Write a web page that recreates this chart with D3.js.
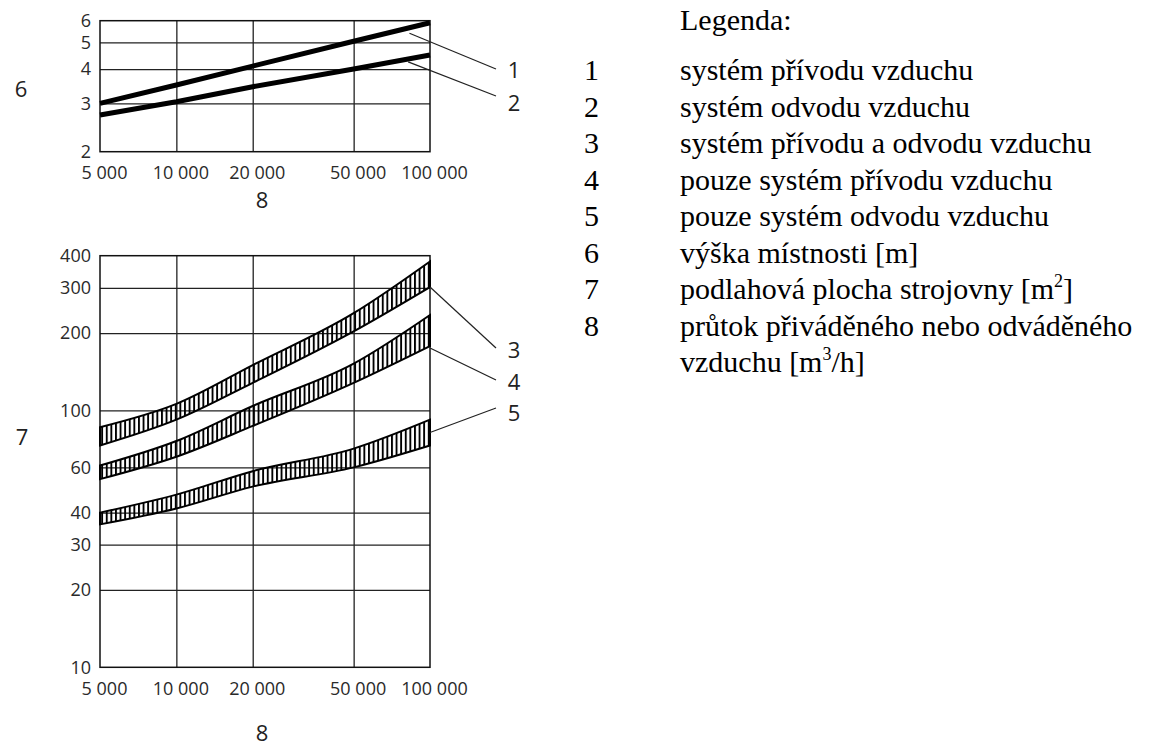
<!DOCTYPE html>
<html>
<head>
<meta charset="utf-8">
<script src="https://cdn.jsdelivr.net/npm/d3@7"></script>
<style>
    body { margin: 0; background: #fff; }
    .tick text { font-family: "Open Sans", sans-serif; font-size: 18px; fill: #2a2a2a; }
    .title { font-family: "Open Sans", sans-serif; font-size: 22px; fill: #222; }
    .legend { font-family: "Liberation Serif", "Times New Roman", serif; font-size: 30px; fill: #000; }
</style>
</head>
<body>
<svg id="chart"></svg>
<script>
// air flow [m3/h] on both x axes
const flowTicks = [5000, 10000, 20000, 50000, 100000];
const flows = [5000, 10000, 20000, 50000, 100000];

// upper chart: room height [m]
const heightTicks = [2, 3, 4, 5, 6];
const heightSupply = [3.0, 3.5, 4.1, 5.05, 5.9];     // 1
const heightExhaust = [2.72, 3.04, 3.45, 4.0, 4.5];  // 2

// lower chart: floor area of the plant room [m2]
const areaTicks = [10, 20, 30, 40, 60, 100, 200, 300, 400];
const areaBothLow = [73, 92, 128, 203, 302];         // 3
const areaBothHigh = [86, 106, 150, 239, 380];
const areaSupplyLow = [54, 66, 87, 128, 178];        // 4
const areaSupplyHigh = [61, 76, 104, 152, 235];
const areaExhaustLow = [36, 41.5, 50.5, 60, 73];     // 5
const areaExhaustHigh = [40, 47, 58, 71, 92];

const legendKeys = ["1", "2", "3", "4", "5", "6", "7", "8"];
const legendTexts = [
    "systém přívodu vzduchu",
    "systém odvodu vzduchu",
    "systém přívodu a odvodu vzduchu",
    "pouze systém přívodu vzduchu",
    "pouze systém odvodu vzduchu",
    "výška místnosti [m]",
    "podlahová plocha strojovny [m^2]",
    "průtok přiváděného nebo odváděného\nvzduchu [m^3/h]"
];

const width = 1167, height = 749;
const svg = d3.select("#chart").attr("width", width).attr("height", height);
svg.append("defs").append("pattern")
    .attr("id", "hatch").attr("patternUnits", "userSpaceOnUse")
    .attr("width", 4.6).attr("height", 10)
    .append("rect").attr("width", 1.9).attr("height", 10).attr("fill", "#000");

const fmt = d3.formatLocale({decimal: ",", thousands: " ", grouping: [3], currency: ["", ""]}).format(",");
const left = 100, right = 430;

function drawPanel(top, bottom, yDomain, yTicks, labelDx) {
    const x = d3.scaleLog().domain([5000, 100000]).range([left, right]);
    const y = d3.scaleLog().domain(yDomain).range([bottom, top]);
    const g = svg.append("g");

    // grid
    g.append("g").attr("transform", "translate(0," + bottom + ")")
        .call(d3.axisBottom(x).tickValues(flowTicks.slice(1, -1)).tickSize(-(bottom - top)).tickFormat(""))
        .call(s => s.select(".domain").remove())
        .selectAll("line").attr("stroke", "#222").attr("stroke-width", 1.3);
    g.append("g").attr("transform", "translate(" + left + ",0)")
        .call(d3.axisLeft(y).tickValues(yTicks.slice(1, -1)).tickSize(-(right - left)).tickFormat(""))
        .call(s => s.select(".domain").remove())
        .selectAll("line").attr("stroke", "#222").attr("stroke-width", 1.3);
    g.append("rect").attr("x", left).attr("y", top)
        .attr("width", right - left).attr("height", bottom - top)
        .attr("fill", "none").attr("stroke", "#111").attr("stroke-width", 1.5);

    // tick labels
    g.append("g").attr("transform", "translate(0," + bottom + ")")
        .call(d3.axisBottom(x).tickValues(flowTicks).tickSize(0).tickPadding(15).tickFormat(fmt))
        .call(s => s.select(".domain").remove())
        .selectAll("text").attr("dx", labelDx);
    g.append("g").attr("transform", "translate(" + left + ",0)")
        .call(d3.axisLeft(y).tickValues(yTicks).tickSize(0).tickPadding(9).tickFormat(d3.format("d")))
        .call(s => s.select(".domain").remove());

    return {x, y, g};
}

// upper chart
const up = drawPanel(20.7, 151.7, [2, 6], heightTicks, 4);
const line = d3.line().x(d => up.x(d[0])).y(d => up.y(d[1]));
[heightSupply, heightExhaust].forEach(vals => {
    up.g.append("path")
        .attr("d", line(d3.zip(flows, vals)))
        .attr("fill", "none").attr("stroke", "#000").attr("stroke-width", 5);
});

// lower chart
const low = drawPanel(255.7, 667.3, [10, 400], areaTicks, 4);
const area = d3.area().curve(d3.curveMonotoneX)
    .x(d => low.x(d[0])).y0(d => low.y(d[1])).y1(d => low.y(d[2]));
[[areaBothLow, areaBothHigh], [areaSupplyLow, areaSupplyHigh], [areaExhaustLow, areaExhaustHigh]].forEach(([lo, hi]) => {
    low.g.append("path")
        .attr("d", area(d3.zip(flows, lo, hi)) + "Z")
        .attr("fill", "url(#hatch)").attr("stroke", "#000").attr("stroke-width", 2);
});

// leaders with curve numbers
function leader(panel, anchor, endY, labelY, label) {
    const x0 = panel.x(anchor[0]), y0 = panel.y(anchor[1]);
    svg.append("line").attr("x1", x0).attr("y1", y0).attr("x2", right + 66).attr("y2", endY)
        .attr("stroke", "#222").attr("stroke-width", 1.2);
    svg.append("text").attr("class", "title").attr("x", right + 84).attr("y", labelY)
        .attr("dy", "0.35em").attr("text-anchor", "middle").text(label);
}
leader(up, [83000, 5.4], 69, 70, "1");
leader(up, [82000, 4.25], 96, 103, "2");
leader(low, [100000, 302], 348, 350, "3");
leader(low, [100000, 175], 380, 382, "4");
leader(low, [100000, 82], 408, 413, "5");

// axis numbers
const titles = [["6", 21, 89], ["8", 262, 200], ["7", 22, 437], ["8", 262, 733]];
svg.selectAll("text.axtitle").data(titles).join("text")
    .attr("class", "title axtitle")
    .attr("x", d => d[1]).attr("y", d => d[2]).attr("dy", "0.35em")
    .attr("text-anchor", "middle").text(d => d[0]);

// legend
const lg = svg.append("g").attr("class", "legend");
lg.append("text").attr("x", 680).attr("y", 30).text("Legenda:");
let rowY = 80;
legendKeys.forEach((k, i) => {
    lg.append("text").attr("x", 584).attr("y", rowY).text(k);
    legendTexts[i].split("\n").forEach(lineText => {
        const t = lg.append("text").attr("x", 680).attr("y", rowY);
        lineText.split(/\^(\d)/).forEach((part, j) => {
            if (j % 2 === 1) {
                t.append("tspan").attr("dy", -12).attr("font-size", 18).text(part);
            } else if (part.length) {
                t.append("tspan").attr("dy", j > 0 ? 12 : 0).text(part);
            }
        });
        rowY += 36.5;
    });
});
</script>
</body>
</html>
